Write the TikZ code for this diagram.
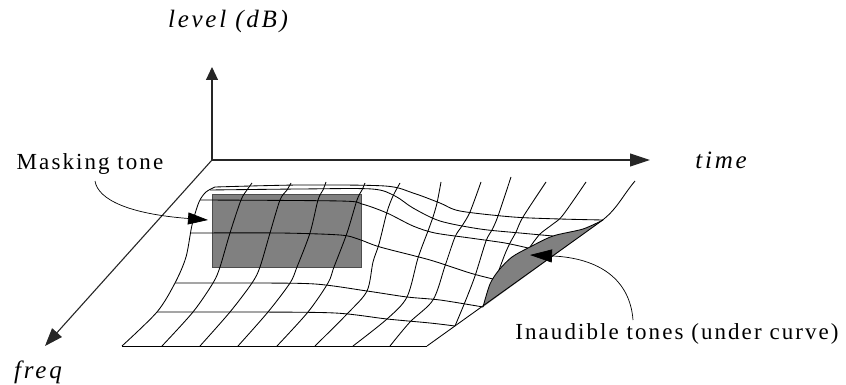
\documentclass[tikz,border=0pt]{standalone}
\usepackage{fontspec}
\setmainfont{Liberation Serif}[LetterSpace=9]
\newfontfamily\labit{Liberation Serif}[LetterSpace=11]
\usetikzlibrary{arrows.meta}
\begin{document}
\begin{tikzpicture}[x=1pt,y=-1pt,
  axisline/.style={line width=1.1pt, draw=black!85},
  meshline/.style={line width=0.85pt, draw=black, line join=round},
  shadefill/.style={fill=black!50},
  lab/.style={font=\fontsize{23}{27}\selectfont, inner sep=0pt},
  itlab/.style={font=\fontsize{25}{29}\selectfont\labit\itshape, inner sep=0pt},
  callout/.style={line width=0.7pt, draw=black}]
\useasboundingbox (0,0) rectangle (846,385);

% masking tone block
\filldraw[shadefill, draw=black!70, line width=0.6pt] (212,194) rectangle (361,267);
% inaudible region (under curve)
\fill[shadefill] plot[smooth] coordinates {(483,307) (490,284) (499,270) (512,257) (530,247) (553,236) (583,229) (603,220)} -- cycle;
\draw[meshline] plot[smooth] coordinates {(483,307) (490,284) (499,270) (512,257) (530,247) (553,236) (583,229) (603,220)};

% right edge
\draw[meshline] (427,346) -- (600,222) to[out=36,in=230] (635,181);

% rows (constant frequency)
\draw[meshline] (122,346) -- (427,346);
\draw[meshline] plot[smooth] coordinates {(157,312) (250,312) (335,313) (387,319) (430,323) (455,326)};
\draw[meshline] plot[smooth] coordinates {(175,283) (250,283) (315,284) (367,291) (407,297) (440,300) (483,307)};
\draw[meshline] plot[smooth] coordinates {(190,233) (280,233) (340,235) (358,239) (380,247) (430,260) (470,273) (493,279)};
\draw[meshline] plot[smooth] coordinates {(200,200) (340,201) (362,204) (387,213) (413,226) (435,233) (470,238) (505,243) (528,248)};
\draw[meshline] plot[smooth] coordinates {(210,190) (300,189) (372,189) (395,196) (413,208) (440,221) (480,229) (520,233) (553,236)};
\draw[meshline] plot[smooth] coordinates {(215,187) (300,185) (385,186) (413,193) (440,203) (460,211) (513,217) (560,219) (603,220)};

% columns (constant time)
\draw[meshline] plot[smooth] coordinates {(122,346) (157,312) (175,283) (186,257) (192,225) (199,202) (206,192) (215,187)};
\draw[meshline] plot[smooth] coordinates {(162,346) (193,312) (213,283) (220,267) (230,233) (241,200) (247,190) (252,183)};
\draw[meshline] plot[smooth] coordinates {(200,346) (230,312) (252,283) (260,267) (270,233) (280,200) (287,190) (291,183)};
\draw[meshline] plot[smooth] coordinates {(238,346) (268,312) (290,283) (297,267) (310,233) (318,200) (323,190) (326,182)};
\draw[meshline] plot[smooth] coordinates {(277,346) (308,312) (328,283) (334,267) (347,233) (357,200) (362,190) (365,183)};
\draw[meshline] plot[smooth] coordinates {(315,346) (348,313) (367,291) (373,262) (379,244) (387,212) (393,196) (400,183)};
\draw[meshline] plot[smooth] coordinates {(353,346) (387,319) (407,297) (418,258) (428,231) (433,217) (437,203) (441,182)};
\draw[meshline] plot[smooth] coordinates {(390,346) (410,322) (433,300) (445,266) (455,237) (462,226) (470,212) (481,182)};
\draw[meshline] plot[smooth] coordinates {(455,326) (465,302) (475,276) (486,241) (492,230) (498,216) (511,177)};
\draw[meshline] plot[smooth] coordinates {(499,270) (505,254) (510,243) (516,232) (523,217) (546,182)};
\draw[meshline] plot[smooth] coordinates {(530,247) (540,234) (553,224) (563,215) (586,182)};

% axes
\coordinate (O) at (212,160);
\coordinate (Ltip) at (212,67);
\coordinate (Ttip) at (650,160);
\coordinate (Ftip) at (45,346);
\draw[axisline, -{Triangle[length=13pt,width=12pt]}] (O) -- (Ltip);
\draw[axisline, -{Triangle[length=20pt,width=13pt]}] (O) -- (Ttip);
\draw[axisline, -{Triangle[length=18pt,width=13pt]}] (O) -- (Ftip);

% labels
\node[itlab, anchor=base] (lvl) at (228,28) {level (dB)};
\node[itlab, anchor=base] (tim) at (721,168) {time};
\node[itlab, anchor=base] (frq) at (38,378) {freq};
\node[lab, anchor=base] (mask) at (90,170) {Masking tone};
\node[lab, anchor=base] (inaud) at (677,339) {Inaudible tones (under curve)};

% callouts
\coordinate (mstart) at (95,181);
\coordinate (mtip) at (208,220);
\draw[callout, -{Triangle[length=20pt,width=12pt]}] (mstart) .. controls (98,200) and (130,214) .. (mtip);
\coordinate (istart) at (633,320);
\coordinate (itip) at (530,255);
\draw[callout, -{Triangle[length=22pt,width=13pt]}] (istart) .. controls (630,280) and (600,258) .. (itip);
\end{tikzpicture}
\end{document}
